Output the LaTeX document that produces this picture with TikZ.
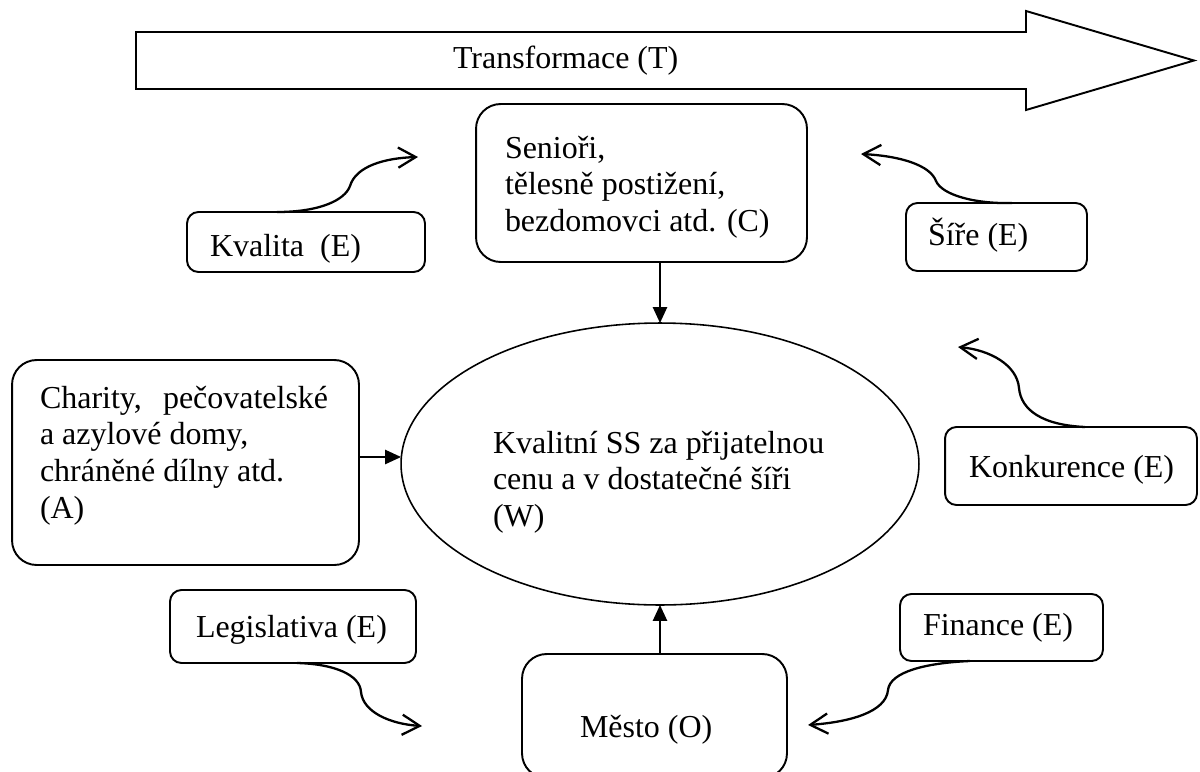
\documentclass[tikz,border=0pt]{standalone}
\usepackage{fontspec}
\setmainfont{Liberation Serif}
\usetikzlibrary{arrows.meta,shapes.geometric,calc}
\newcommand{\mylines}[1]{\begin{tabular}[t]{@{}l@{}}#1\end{tabular}}
\begin{document}
\begin{tikzpicture}[x=0.02cm,y=-0.02cm,
  font=\fontsize{18.2}{21}\selectfont,
  every node/.style={inner sep=0pt, outer sep=0pt},
  smallbox/.style={draw, line width=1.1pt, rounded corners=6.5pt, rectangle},
  bigbox/.style={draw, line width=1.1pt, rounded corners=14pt, rectangle},
  txt/.style={anchor=base west, inner sep=0pt, align=left},
  arr/.style={line width=1.1pt, -{Triangle[length=9pt,width=8pt]}},
  curvarr/.style={line width=1.3pt, -{Straight Barb[length=10pt,width=11.5pt,line width=1.3pt]}}
]
\clip (0,0) rectangle (1200,771);
\fill[white] (0,0) rectangle (1200,771);

% big arrow
\draw[line width=1.1pt, line join=miter] (136,32) -- (1026,32) -- (1026,11) -- (1194,60.5) -- (1026,110) -- (1026,89) -- (136,89) -- cycle;
\node[txt] (ttext) at (453,68) {Transformace (T)};

% boxes
\node[bigbox, minimum width=6.62cm, minimum height=3.16cm] (sen) at (641.5,183) {};
\node[txt] (sentext) at (505,158) {\mylines{Senioři,\\ tělesně postižení,\\ bezdomovci atd. (C)}};

\node[draw, ellipse, line width=0.9pt, minimum width=10.36cm, minimum height=5.64cm] (ell) at (660,464) {};
\node[txt] (elltext) at (493,453) {\mylines{Kvalitní SS za přijatelnou\\ cenu a v dostatečné šíři\\ (W)}};

\node[bigbox, minimum width=6.94cm, minimum height=4.10cm] (cha) at (185.5,462.5) {};
\node[txt] (chatext) at (40,408) {\mylines{\makebox[164pt][s]{Charity, pečovatelské}\\ a azylové domy,\\ chráněné dílny atd.\\ (A)}};

\node[bigbox, minimum width=5.30cm, minimum height=2.48cm] (mes) at (654.5,716) {};
\node[txt] (mestext) at (580,737) {Město (O)};

\node[smallbox, minimum width=4.76cm, minimum height=1.2cm] (kval) at (306,242) {};
\node[txt] (kvaltext) at (210,256) {Kvalita\ \ (E)};

\node[smallbox, minimum width=3.62cm, minimum height=1.36cm] (sir) at (996.5,237) {};
\node[txt] (sirtext) at (928,245) {Šíře (E)};

\node[smallbox, minimum width=5.04cm, minimum height=1.56cm] (kon) at (1071,466) {};
\node[txt] (kontext) at (969,477) {Konkurence (E)};

\node[smallbox, minimum width=4.92cm, minimum height=1.46cm] (leg) at (293,626.5) {};
\node[txt] (legtext) at (196,637) {Legislativa (E)};

\node[smallbox, minimum width=4.06cm, minimum height=1.34cm] (fin) at (1001.5,627.5) {};
\node[txt] (fintext) at (923,635) {Finance (E)};

% straight connectors
\draw[arr] (sen.south -| ell.north) -- (ell.north);
\draw[arr] (mes.north -| ell.south) -- (ell.south);
\draw[arr] (cha.east |- 0,457) -- (ell.west |- 0,457);

% curved influence arrows
\coordinate (tk) at (418,157);
\coordinate (ts) at (861,154);
\coordinate (tc) at (958,347);
\coordinate (tl) at (422,726);
\coordinate (tf) at (808,725);

\draw[curvarr] ($(kval.north)+(-29,0)$) .. controls (320,212) and (345,200) .. (350,186)
   .. controls (356,166) and (385,158) .. (tk);
\draw[curvarr] ($(sir.north)+(15.5,0)$) .. controls (975,204) and (942,195) .. (936,181)
   .. controls (930,165) and (900,156) .. (ts);
\draw[curvarr] ($(kon.north)+(14,0)$) .. controls (1042,425) and (1021,410) .. (1019,388)
   .. controls (1017,365) and (990,350) .. (tc);
\draw[curvarr] ($(leg.south)+(4,0)$) .. controls (335,664) and (360,675) .. (361,692)
   .. controls (363,712) and (390,724) .. (tl);
\draw[curvarr] ($(fin.south)+(-31.5,0)$) .. controls (925,663) and (890,672) .. (888,690)
   .. controls (886,712) and (850,722) .. (tf);
\end{tikzpicture}
\end{document}
